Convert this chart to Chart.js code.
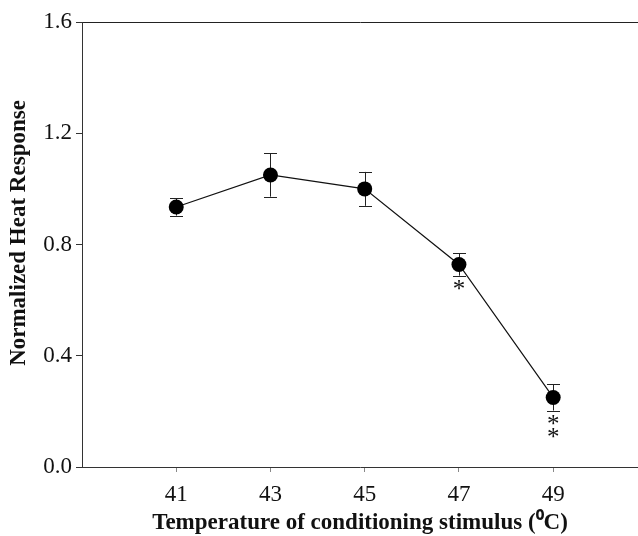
<!DOCTYPE html>
<html><head><meta charset="utf-8">
<script src="https://cdn.jsdelivr.net/npm/chart.js@4"></script>
<style>html,body{margin:0;padding:0;background:#fff;overflow:hidden}#wrap{width:638px;height:536px}</style>
</head><body><div id="wrap"><canvas id="c" width="638" height="536"></canvas></div>
<script>
const temperatures = [41, 43, 45, 47, 49];
const heatResponse = [0.935, 1.05, 1.0, 0.728, 0.25];
const errorSEM = [0.031, 0.078, 0.061, 0.04, 0.047];
const significance = ['', '', '', '*', '**'];
const xTickValues = [41, 43, 45, 47, 49];
const yTickValues = [0.0, 0.4, 0.8, 1.2, 1.6];

const SERIF = '"Liberation Serif", "Times New Roman", serif';

const errorBars = {
  id: 'errorBars',
  beforeDatasetsDraw(chart) {
    const ctx = chart.ctx, xs = chart.scales.x, ys = chart.scales.y;
    ctx.save();
    ctx.strokeStyle = '#222';
    ctx.lineWidth = 1;
    temperatures.forEach((t, i) => {
      const px = Math.round(xs.getPixelForValue(t)) + 0.5;
      const top = ys.getPixelForValue(heatResponse[i] + errorSEM[i]);
      const bot = ys.getPixelForValue(heatResponse[i] - errorSEM[i]);
      ctx.beginPath();
      ctx.moveTo(px, top); ctx.lineTo(px, bot);
      ctx.moveTo(px - 6.5, Math.round(top) + 0.5); ctx.lineTo(px + 6.5, Math.round(top) + 0.5);
      ctx.moveTo(px - 6.5, Math.round(bot) + 0.5); ctx.lineTo(px + 6.5, Math.round(bot) + 0.5);
      ctx.stroke();
    });
    ctx.restore();
  },
  afterDatasetsDraw(chart) {
    const ctx = chart.ctx, xs = chart.scales.x, ys = chart.scales.y;
    ctx.save();
    ctx.fillStyle = '#111';
    ctx.font = '25px ' + SERIF;
    ctx.textAlign = 'center';
    ctx.textBaseline = 'alphabetic';
    temperatures.forEach((t, i) => {
      const marks = significance[i];
      if (!marks) return;
      const px = xs.getPixelForValue(t);
      const bot = ys.getPixelForValue(heatResponse[i] - errorSEM[i]);
      for (let k = 0; k < marks.length; k++) {
        ctx.fillText('*', px, bot + 21 + k * 13);
      }
    });
    ctx.restore();
  }
};

new Chart(document.getElementById('c'), {
  type: 'line',
  data: {
    datasets: [{
      data: temperatures.map((t, i) => ({ x: t, y: heatResponse[i] })),
      borderColor: '#111',
      borderWidth: 1.2,
      pointRadius: 7.5,
      pointBackgroundColor: '#000',
      pointBorderColor: '#000',
      pointBorderWidth: 0,
      tension: 0,
      clip: false,
      xAxisID: 'x',
      yAxisID: 'y'
    }]
  },
  options: {
    responsive: false,
    animation: false,
    events: [],
    layout: { padding: 0, autoPadding: false },
    plugins: { legend: { display: false }, tooltip: { enabled: false } },
    scales: {
      x: {
        type: 'linear',
        position: 'bottom',
        min: 39, max: 50.8,
        afterBuildTicks: s => { s.ticks = xTickValues.map(v => ({ value: v })); },
        afterFit: s => { s.height = 69; },
        grid: { drawOnChartArea: false, tickLength: 5, color: '#888' },
        border: { display: true, color: '#333', width: 1 },
        ticks: { color: '#111', font: { family: SERIF, size: 23 }, padding: 9, maxRotation: 0, callback: v => String(v) },
        title: { display: true, text: 'Temperature of conditioning stimulus (\u2070C)', color: '#111', font: { family: SERIF, size: 23, weight: 'bold' }, padding: { top: 0, bottom: -1 } }
      },
      x2: {
        type: 'linear',
        position: 'top',
        min: 39, max: 50.8,
        afterFit: s => { s.height = 22; },
        grid: { display: false },
        border: { display: true, color: '#222', width: 1 },
        ticks: { display: false }
      },
      y: {
        type: 'linear',
        position: 'left',
        min: 0, max: 1.6,
        afterBuildTicks: s => { s.ticks = yTickValues.map(v => ({ value: v })); },
        afterFit: s => { s.width = 82; },
        grid: { drawOnChartArea: false, tickLength: 6, color: '#333' },
        border: { display: true, color: '#333', width: 1 },
        ticks: { color: '#111', font: { family: SERIF, size: 23 }, padding: 4, callback: v => Number(v).toFixed(1) },
        title: { display: true, text: '\u2003Normalized Heat Response', color: '#111', font: { family: SERIF, size: 23, weight: 'bold' }, padding: { top: 5, bottom: 0 } }
      }
    }
  },
  plugins: [errorBars]
});
</script></body></html>
